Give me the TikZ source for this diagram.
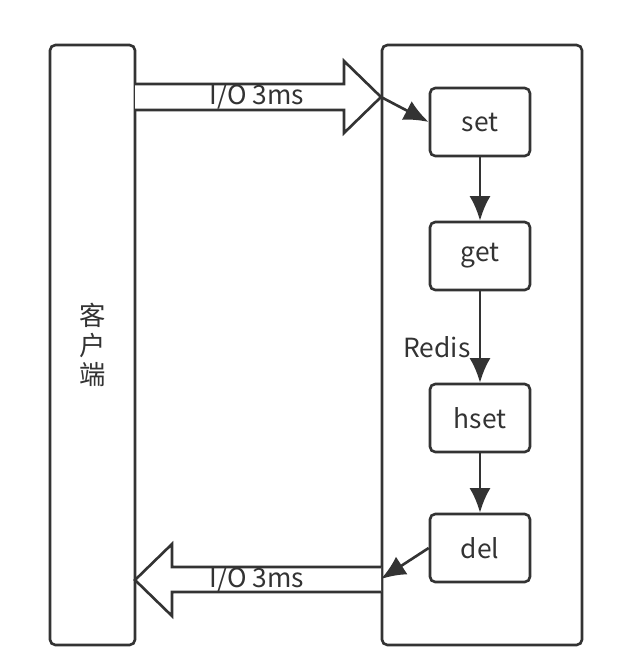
\documentclass[tikz,border=0pt]{standalone}
\usepackage{fontspec}
\setmainfont{Noto Sans CJK SC}
\usepackage{tikz}
\usetikzlibrary{positioning,arrows.meta,calc}

\definecolor{ink}{HTML}{333333}

\tikzset{
    box/.style={draw=ink, line width=1.5pt, rounded corners=3pt, text=ink},
    cmd/.style={box, minimum width=2cm, minimum height=1.36cm},
    flow/.style={draw=ink, line width=1.5pt, -{Latex[length=14pt,width=12pt]}},
    bigarrow/.style={draw=ink, line width=1.5pt, fill=white, line join=miter},
}

\begin{document}
\begin{tikzpicture}[x=0.02cm, y=-0.02cm, font=\fontsize{15}{17}\selectfont]
            \useasboundingbox (0,0) rectangle (642,664);

            \node[box, minimum width=1.7cm, minimum height=12cm, align=center] (client) at (92.5,345) {客\\户\\端};
            \node[box, minimum width=4cm, minimum height=12cm] (redis) at (482,345) {};

            \node[cmd] (set) at (480,122) {set};
            \node[cmd] (get) at (480,256) {get};
            \node[cmd] (hset) at (480,418) {hset};
            \node[cmd] (del) at (480,548) {del};

            \node[text=ink] (name) at (437,347) {Redis};

            \draw[bigarrow] (135,84) -- (344,84) -- (344,61) -- (381,97) -- (344,133) -- (344,110) -- (135,110);
            \node[text=ink] (inlabel) at (257,96) {I/O 3ms};
            \coordinate (intip) at (381,97);

            \draw[bigarrow] (381,567) -- (172,567) -- (172,544) -- (135,580) -- (172,616) -- (172,592) -- (381,592);
            \node[text=ink] (outlabel) at (257,579) {I/O 3ms};
            \coordinate (outtail) at (381,579);

            \draw[flow] (intip) -- (set.west);
            \draw[flow] (set) -- (get);
            \draw[flow] (get) -- (hset);
            \draw[flow] (hset) -- (del);
            \draw[flow] (del.west) -- (outtail);
        \end{tikzpicture}
\end{document}
